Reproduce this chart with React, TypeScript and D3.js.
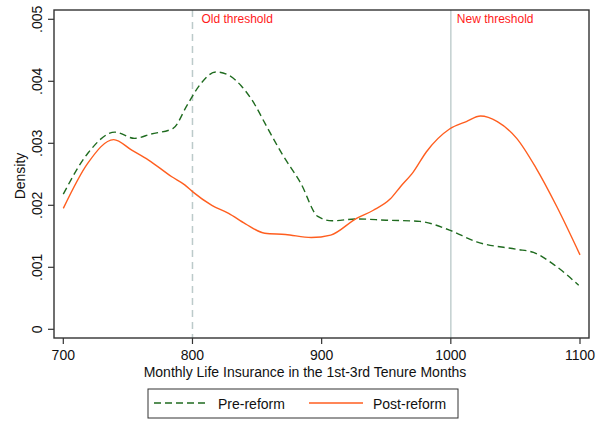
import React from "react";
import * as d3 from "d3";

const preX = [700, 719, 740, 755, 768, 785, 796, 806, 818, 828, 838, 846, 858, 869, 884, 897, 908, 927, 950, 976, 999, 1020, 1051, 1064, 1080, 1099];
const preY = [0.00218, 0.00284, 0.00318, 0.00308, 0.00315, 0.00324, 0.00362, 0.00395, 0.00415, 0.00410, 0.00392, 0.00370, 0.00325, 0.00284, 0.00235, 0.00182, 0.00175, 0.00178, 0.00176, 0.00174, 0.00160, 0.00141, 0.00129, 0.00124, 0.00104, 0.00071];

const postX = [700, 719, 739, 753, 766, 784, 794, 800, 815, 828, 841, 856, 872, 892, 907, 927, 940, 953, 961, 971, 981, 999, 1012, 1023, 1036, 1051, 1066, 1082, 1100];
const postY = [0.00195, 0.00268, 0.00306, 0.00289, 0.00273, 0.00246, 0.00233, 0.00222, 0.00200, 0.00187, 0.00170, 0.00155, 0.00153, 0.00148, 0.00152, 0.00179, 0.00192, 0.00210, 0.00230, 0.00254, 0.00286, 0.00323, 0.00335, 0.00344, 0.00335, 0.00308, 0.00260, 0.00198, 0.00120];

const xTicks = [700, 800, 900, 1000, 1100];
const yTicks = [0, 0.001, 0.002, 0.003, 0.004, 0.005];
const yTickLabels = ["0", ".001", ".002", ".003", ".004", ".005"];
const thresholds = [800, 1000];
const thresholdLabels = ["Old threshold", "New threshold"];
const seriesNames = ["Pre-reform", "Post-reform"];

const FONT = "'Liberation Sans', Arial, Helvetica, sans-serif";
const GREEN = "#1f6b1f";
const ORANGE = "#ff5e1f";

export default function App() {
  const W = 606, H = 421;
  const frame = { left: 54, top: 10, right: 589, bottom: 338 };
  const x = d3.scaleLinear().domain([700, 1100]).range([63.3, 580]);
  const y = d3.scaleLinear().domain([0, 0.005]).range([329.3, 19.3]);

  const line = d3.line<[number, number]>()
    .x((d) => x(d[0]))
    .y((d) => y(d[1]))
    .curve(d3.curveMonotoneX);

  const prePts: [number, number][] = preX.map((v, i) => [v, preY[i]]);
  const postPts: [number, number][] = postX.map((v, i) => [v, postY[i]]);

  return (
    <svg width={W} height={H} style={{ position: "absolute", left: 0, top: 0, background: "#fff" }} fontFamily={FONT}>
      <rect x={0} y={0} width={W} height={H} fill="#fff" />
      {/* thresholds */}
      <line x1={x(thresholds[0])} x2={x(thresholds[0])} y1={frame.top} y2={frame.bottom} stroke="#bccaca" strokeWidth={1.5} strokeDasharray="7,5" />
      <line x1={x(thresholds[1])} x2={x(thresholds[1])} y1={frame.top} y2={frame.bottom} stroke="#c6d2d2" strokeWidth={1.6} />
      <text x={x(thresholds[0]) + 9} y={23} fontSize={12} fill="#ff1a1a">{thresholdLabels[0]}</text>
      <text x={x(thresholds[1]) + 6} y={23} fontSize={12} fill="#ff1a1a">{thresholdLabels[1]}</text>

      {/* curves */}
      <path d={line(prePts) || ""} fill="none" stroke={GREEN} strokeWidth={1.4} strokeDasharray="7,4" />
      <path d={line(postPts) || ""} fill="none" stroke={ORANGE} strokeWidth={1.4} />

      {/* frame */}
      <rect x={frame.left} y={frame.top} width={frame.right - frame.left} height={frame.bottom - frame.top} fill="none" stroke="#333" strokeWidth={1.4} />

      {/* y axis */}
      {yTicks.map((t, i) => (
        <g key={"y" + i}>
          <line x1={frame.left - 6} x2={frame.left} y1={y(t)} y2={y(t)} stroke="#333" strokeWidth={1.2} />
          <text transform={`translate(42,${y(t)}) rotate(-90)`} textAnchor="middle" fontSize={14} fill="#111">{yTickLabels[i]}</text>
        </g>
      ))}
      <text transform={`translate(25,176) rotate(-90)`} textAnchor="middle" fontSize={14} fill="#111">Density</text>

      {/* x axis */}
      {xTicks.map((t, i) => (
        <g key={"x" + i}>
          <line x1={x(t)} x2={x(t)} y1={frame.bottom} y2={frame.bottom + 6} stroke="#333" strokeWidth={1.2} />
          <text x={x(t)} y={360} textAnchor="middle" fontSize={14} fill="#111">{t}</text>
        </g>
      ))}
      <text x={305} y={377} textAnchor="middle" fontSize={14} fill="#111">Monthly Life Insurance in the 1st-3rd Tenure Months</text>

      {/* legend */}
      <rect x={148} y={389} width={310} height={29} fill="#fff" stroke="#333" strokeWidth={1} />
      <line x1={154} x2={208} y1={403} y2={403} stroke={GREEN} strokeWidth={1.4} strokeDasharray="7,4" />
      <text x={218} y={409} fontSize={14} fill="#111">{seriesNames[0]}</text>
      <line x1={309} x2={363} y1={403} y2={403} stroke={ORANGE} strokeWidth={1.4} />
      <text x={373} y={409} fontSize={14} fill="#111">{seriesNames[1]}</text>
    </svg>
  );
}
